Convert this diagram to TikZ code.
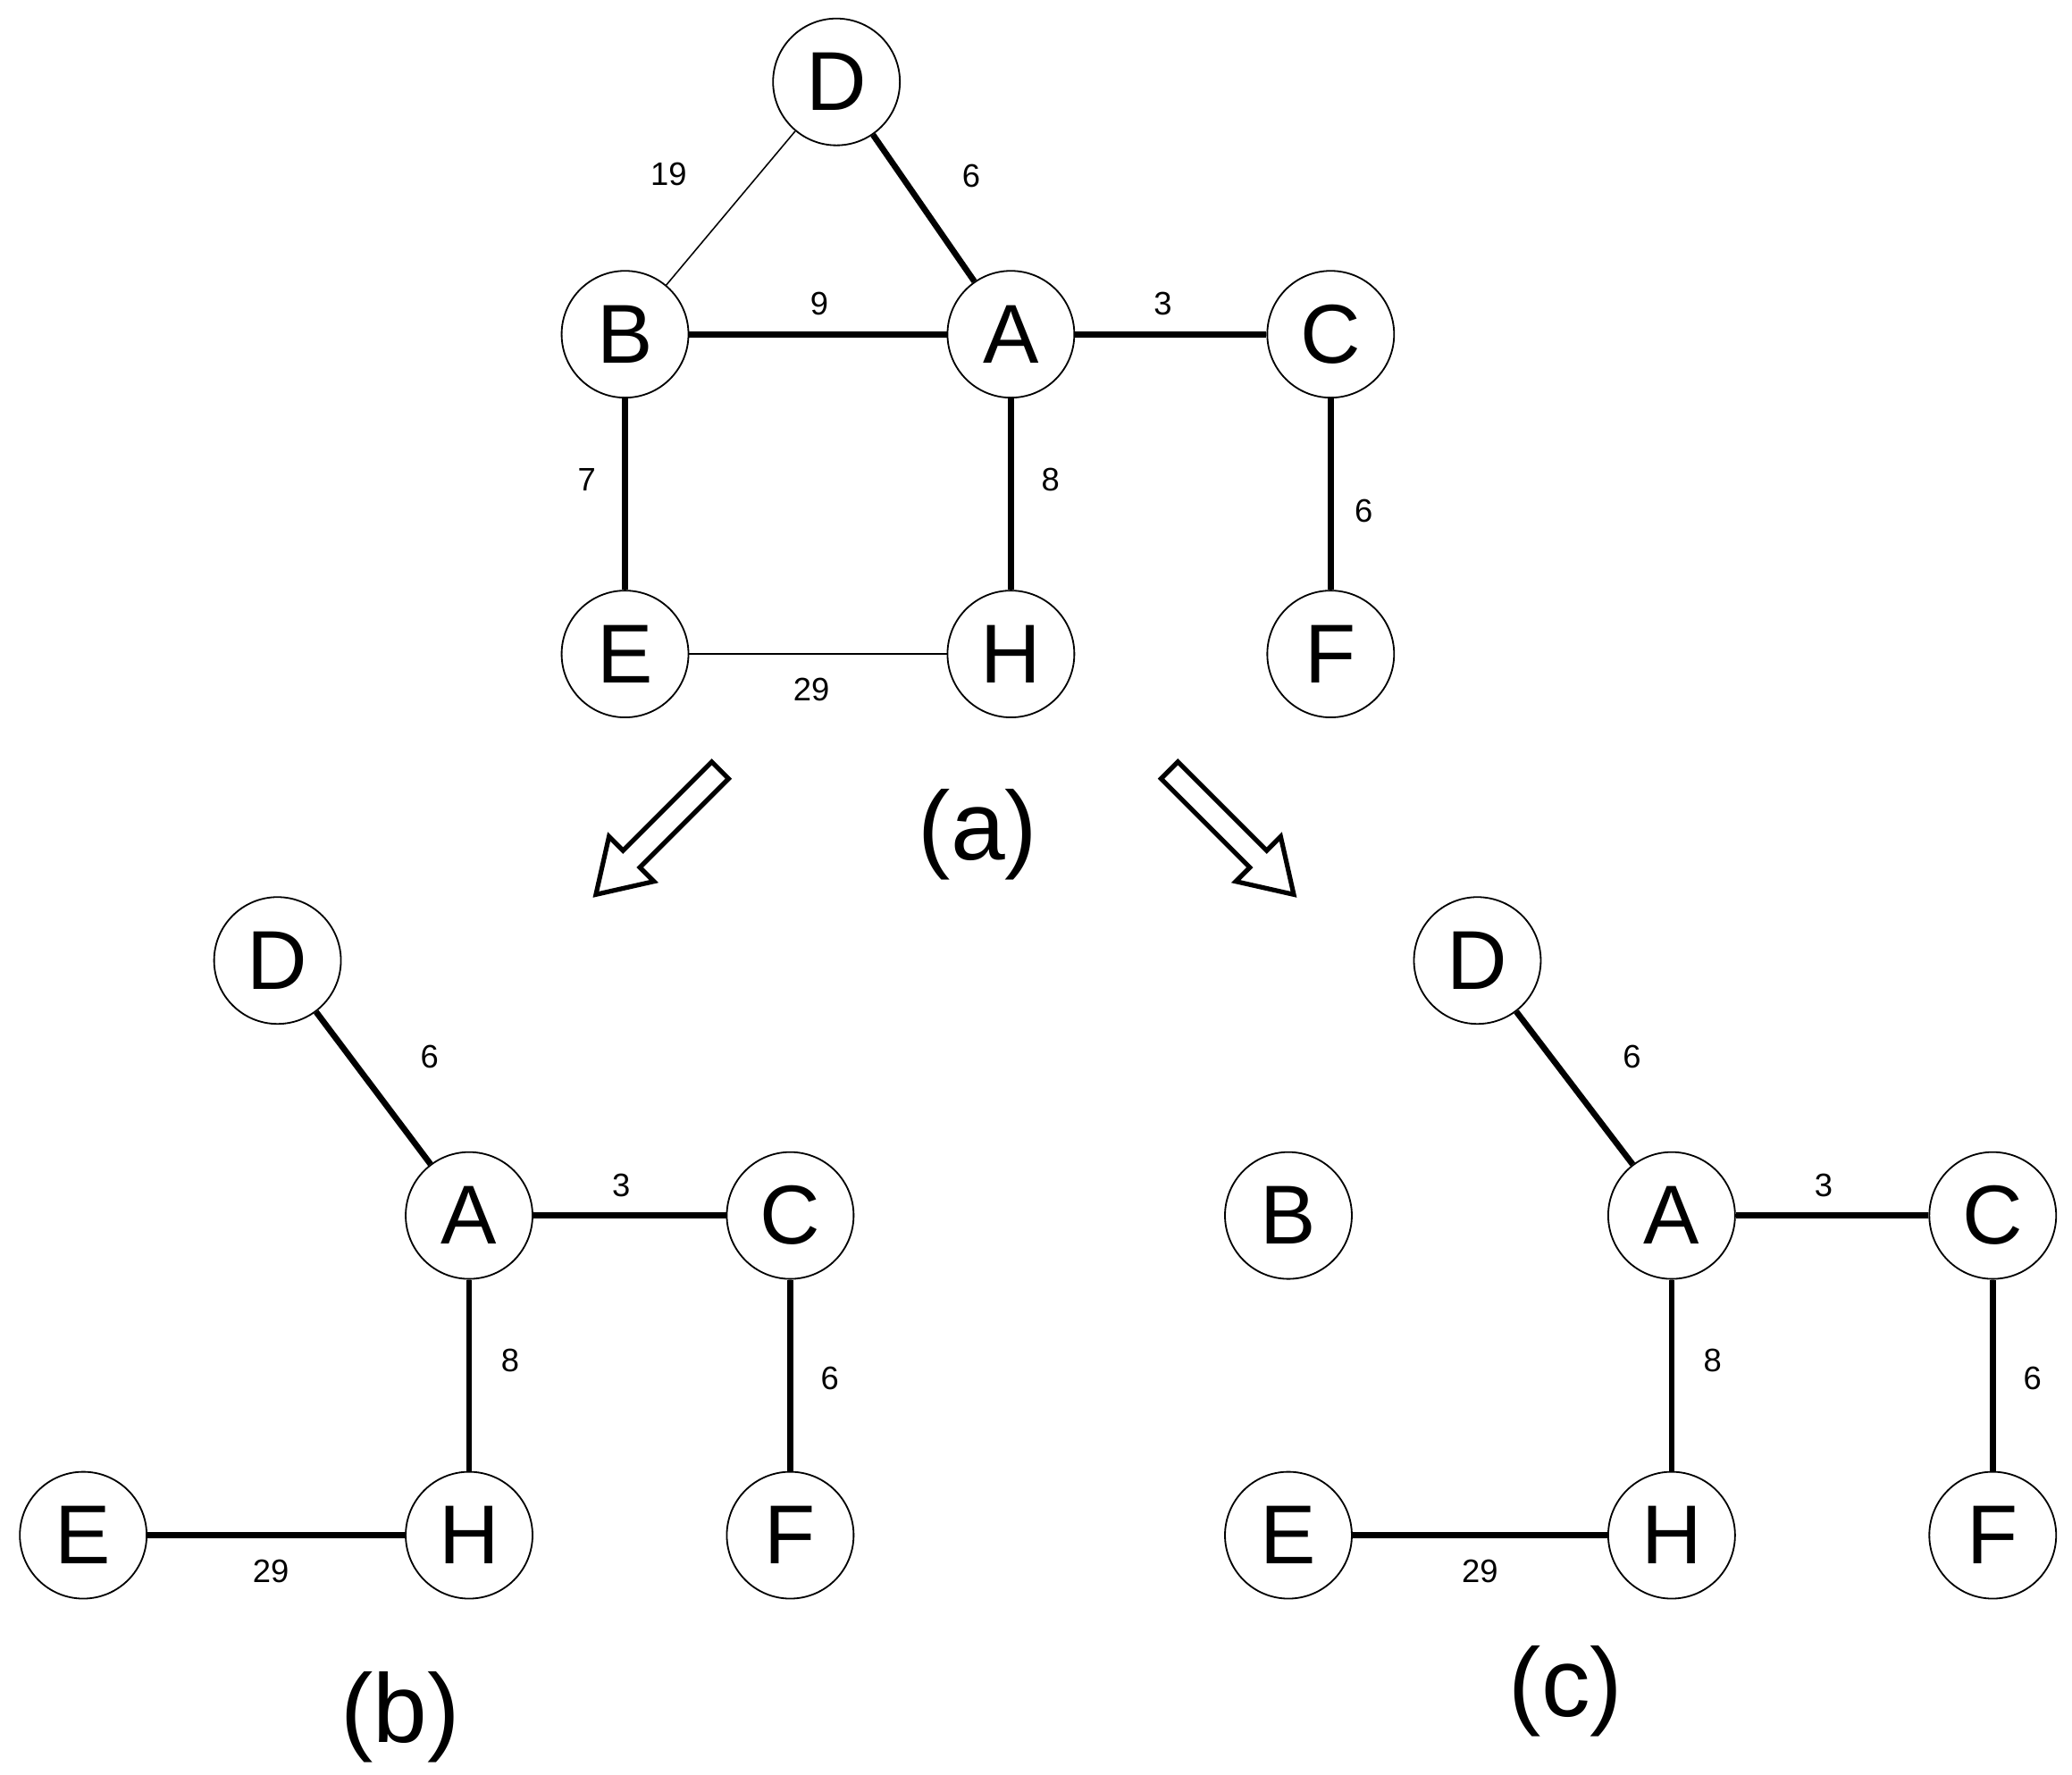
\documentclass[tikz,border=0pt]{standalone}
\usepackage{fontspec}
\setmainfont{Liberation Sans}
\begin{document}
\begin{tikzpicture}[x=0.02cm,y=-0.02cm,
 vtx/.style={circle,draw,line width=0.7pt,minimum size=1.92cm,inner sep=0pt,font=\fontsize{36}{36}\selectfont},
 thk/.style={line width=2.6pt},
 thn/.style={line width=0.6pt},
 wl/.style={font=\fontsize{14}{14}\selectfont},
 sublbl/.style={font=\fontsize{42}{42}\selectfont},
 harrow/.style={draw,line width=2pt,fill=white,line join=miter}]
\useasboundingbox (0,0) rectangle (1568,1343);
% (a)
\node[vtx] (aD) at (633,62) {D};
\node[vtx] (aB) at (473,253) {B};
\node[vtx] (aA) at (765,253) {A};
\node[vtx] (aC) at (1007,253) {C};
\node[vtx] (aE) at (473,495) {E};
\node[vtx] (aH) at (765,495) {H};
\node[vtx] (aF) at (1007,495) {F};
\draw[thn] (aD) -- (aB);
\draw[thk] (aD) -- (aA);
\draw[thk] (aB) -- (aA);
\draw[thk] (aA) -- (aC);
\draw[thk] (aB) -- (aE);
\draw[thk] (aA) -- (aH);
\draw[thk] (aC) -- (aF);
\draw[thn] (aE) -- (aH);
\node[wl] (l1) at (506,132) {19};
\node[wl] (l2) at (735,133) {6};
\node[wl] (l3) at (620,230) {9};
\node[wl] (l4) at (880,230) {3};
\node[wl] (l5) at (444,363) {7};
\node[wl] (l6) at (795,363) {8};
\node[wl] (l7) at (1032,387) {6};
\node[wl] (l8) at (614,522) {29};
\node[sublbl] (ca) at (740,632) {(a)};
% arrows
\begin{scope}[shift={(545,583)},rotate=-135]
\draw[harrow] (0,-9) -- (95,-9) -- (95,-24) -- (133,0) -- (95,24) -- (95,9) -- (0,9) -- cycle;
\end{scope}
\begin{scope}[shift={(885,583)},rotate=-45]
\draw[harrow] (0,-9) -- (95,-9) -- (95,-24) -- (133,0) -- (95,24) -- (95,9) -- (0,9) -- cycle;
\end{scope}
% (b)
\node[vtx] (bD) at (210,727) {D};
\node[vtx] (bA) at (355,920) {A};
\node[vtx] (bC) at (598,920) {C};
\node[vtx] (bE) at (63,1162) {E};
\node[vtx] (bH) at (355,1162) {H};
\node[vtx] (bF) at (598,1162) {F};
\draw[thk] (bD) -- (bA);
\draw[thk] (bA) -- (bC);
\draw[thk] (bA) -- (bH);
\draw[thk] (bC) -- (bF);
\draw[thk] (bE) -- (bH);
\node[wl] (m1) at (325,800) {6};
\node[wl] (m2) at (470,897) {3};
\node[wl] (m3) at (386,1030) {8};
\node[wl] (m4) at (628,1043) {6};
\node[wl] (m5) at (205,1189) {29};
\node[sublbl] (cb) at (303,1300) {(b)};
% (c)
\node[vtx] (cD) at (1118,727) {D};
\node[vtx] (cB) at (975,920) {B};
\node[vtx] (cA) at (1265,920) {A};
\node[vtx] (cC) at (1508,920) {C};
\node[vtx] (cE) at (975,1162) {E};
\node[vtx] (cH) at (1265,1162) {H};
\node[vtx] (cF) at (1508,1162) {F};
\draw[thk] (cD) -- (cA);
\draw[thk] (cA) -- (cC);
\draw[thk] (cA) -- (cH);
\draw[thk] (cC) -- (cF);
\draw[thk] (cE) -- (cH);
\node[wl] (n1) at (1235,800) {6};
\node[wl] (n2) at (1380,897) {3};
\node[wl] (n3) at (1296,1030) {8};
\node[wl] (n4) at (1538,1043) {6};
\node[wl] (n5) at (1120,1189) {29};
\node[sublbl] (cc) at (1185,1280) {(c)};
\end{tikzpicture}
\end{document}
